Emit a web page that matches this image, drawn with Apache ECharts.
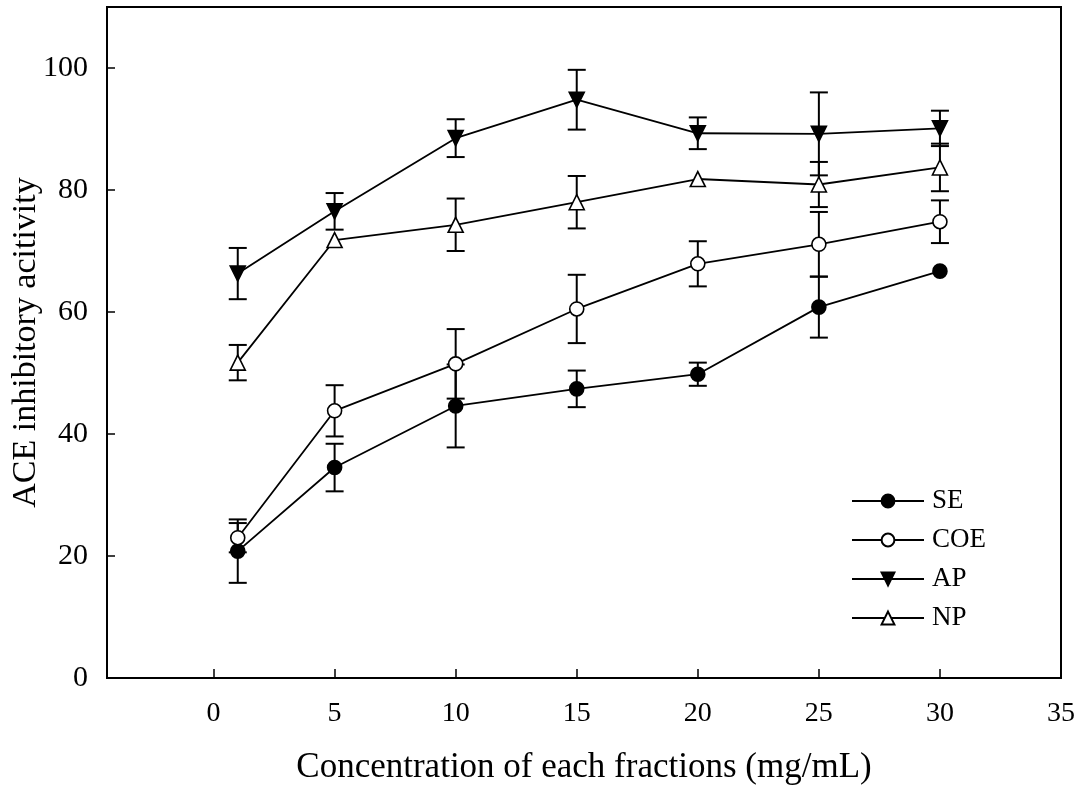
<!DOCTYPE html>
<html>
<head>
<meta charset="utf-8">
<script src="https://cdn.jsdelivr.net/npm/echarts@6/dist/echarts.min.js"></script>
<style>
  html, body { margin: 0; padding: 0; background: #fff; }
  #chart { width: 1077px; height: 787px; }
</style>
</head>
<body>
<div id="chart"></div>
<script>
// Concentration (mg/mL)
const concentrations = [1, 5, 10, 15, 20, 25, 30];

// Mean ACE inhibitory activity and standard deviation per fraction
const seMean  = [20.8, 34.5, 44.6, 47.4, 49.8, 60.8, 66.7];
const seErr   = [5.2, 3.9, 6.8, 3.0, 1.9, 5.0, 0];
const coeMean = [23.0, 43.8, 51.5, 60.5, 67.9, 71.1, 74.8];
const coeErr  = [2.4, 4.2, 5.7, 5.6, 3.7, 5.3, 3.5];
const apMean  = [66.3, 76.5, 88.5, 94.8, 89.3, 89.2, 90.1];
const apErr   = [4.2, 3.0, 3.1, 4.9, 2.6, 6.8, 2.9];
const npMean  = [51.7, 71.8, 74.3, 78.0, 81.8, 80.9, 83.7];
const npErr   = [2.9, 0, 4.3, 4.3, 0, 3.7, 3.9];

// Axis tick labels
const xTicks = [0, 5, 10, 15, 20, 25, 30, 35];
const yTicks = [0, 20, 40, 60, 80, 100];

const FONT = "'Liberation Serif', 'DejaVu Serif', serif";

function pairs(means) {
  return concentrations.map((c, i) => [c, means[i]]);
}
function ranges(means, errs) {
  return concentrations.map((c, i) => [c, means[i] - errs[i], means[i] + errs[i]]);
}

// Vertical error bar with horizontal caps
function renderErrorBar(params, api) {
  const x = api.value(0);
  if (api.value(1) === api.value(2)) return null;
  const lo = api.coord([x, api.value(1)]);
  const hi = api.coord([x, api.value(2)]);
  const half = 9;
  const style = { stroke: '#000', lineWidth: 2 };
  return {
    type: 'group',
    children: [
      { type: 'line', shape: { x1: lo[0], y1: lo[1], x2: hi[0], y2: hi[1] }, style },
      { type: 'line', shape: { x1: lo[0] - half, y1: lo[1], x2: lo[0] + half, y2: lo[1] }, style },
      { type: 'line', shape: { x1: hi[0] - half, y1: hi[1], x2: hi[0] + half, y2: hi[1] }, style }
    ]
  };
}

function errorSeries(means, errs) {
  return {
    type: 'custom',
    renderItem: renderErrorBar,
    data: ranges(means, errs),
    z: 1,
    silent: true
  };
}

function lineSeries(name, means, symbol, size, fill, rotate) {
  return {
    name,
    type: 'line',
    data: pairs(means),
    symbol,
    symbolSize: size,
    symbolRotate: rotate || 0,
    showAllSymbol: true,
    z: 3,
    lineStyle: { color: '#000', width: 1.8 },
    itemStyle: { color: fill, borderColor: '#000', borderWidth: 1.6 },
    emphasis: { disabled: true }
  };
}

const chart = echarts.init(document.getElementById('chart'), null, { renderer: 'canvas' });

chart.setOption({
  animation: false,
  backgroundColor: '#fff',
  grid: {
    left: 107, top: 7, right: 16, bottom: 109,
    outerBoundsMode: 'none',
    containLabel: false,
    show: true, borderColor: '#000', borderWidth: 2, backgroundColor: 'transparent'
  },
  legend: {
    orient: 'vertical',
    left: 846,
    top: 482,
    itemWidth: 72,
    itemHeight: 16,
    itemGap: 11,
    textStyle: { fontFamily: FONT, fontSize: 27, lineHeight: 28, color: '#000', padding: [0, 0, 0, 3] },
    data: ['SE', 'COE', 'AP', 'NP']
  },
  xAxis: {
    type: 'value',
    min: -4.4,
    max: 35,
    name: 'Concentration of each fractions (mg/mL)',
    nameLocation: 'middle',
    nameGap: 72,
    nameMoveOverlap: false,
    nameTextStyle: { fontFamily: FONT, fontSize: 35, color: '#000' },
    axisLine: { show: true, onZero: false, lineStyle: { color: '#000', width: 2 } },
    axisTick: { show: true, inside: true, length: 9, customValues: xTicks, lineStyle: { color: '#000', width: 1.5 } },
    axisLabel: { customValues: xTicks, margin: 22, fontFamily: FONT, fontSize: 28, color: '#000' },
    splitLine: { show: false }
  },
  yAxis: {
    type: 'value',
    min: 0,
    max: 110,
    name: 'ACE inhibitory acitivity',
    nameLocation: 'middle',
    nameRotate: 90,
    nameGap: 64,
    nameMoveOverlap: false,
    nameTextStyle: { fontFamily: FONT, fontSize: 34, color: '#000' },
    axisLine: { show: true, onZero: false, lineStyle: { color: '#000', width: 2 } },
    axisTick: { show: true, inside: true, length: 8, customValues: yTicks, lineStyle: { color: '#000', width: 1.5 } },
    axisLabel: { customValues: yTicks, margin: 19, fontFamily: FONT, fontSize: 30, color: '#000' },
    splitLine: { show: false }
  },
  series: [
    errorSeries(seMean, seErr),
    errorSeries(coeMean, coeErr),
    errorSeries(apMean, apErr),
    errorSeries(npMean, npErr),
    lineSeries('SE', seMean, 'circle', 14, '#000'),
    lineSeries('COE', coeMean, 'circle', 14, '#fff'),
    lineSeries('AP', apMean, 'triangle', 15, '#000', 180),
    lineSeries('NP', npMean, 'triangle', 15, '#fff')
  ]
});
</script>
</body>
</html>
